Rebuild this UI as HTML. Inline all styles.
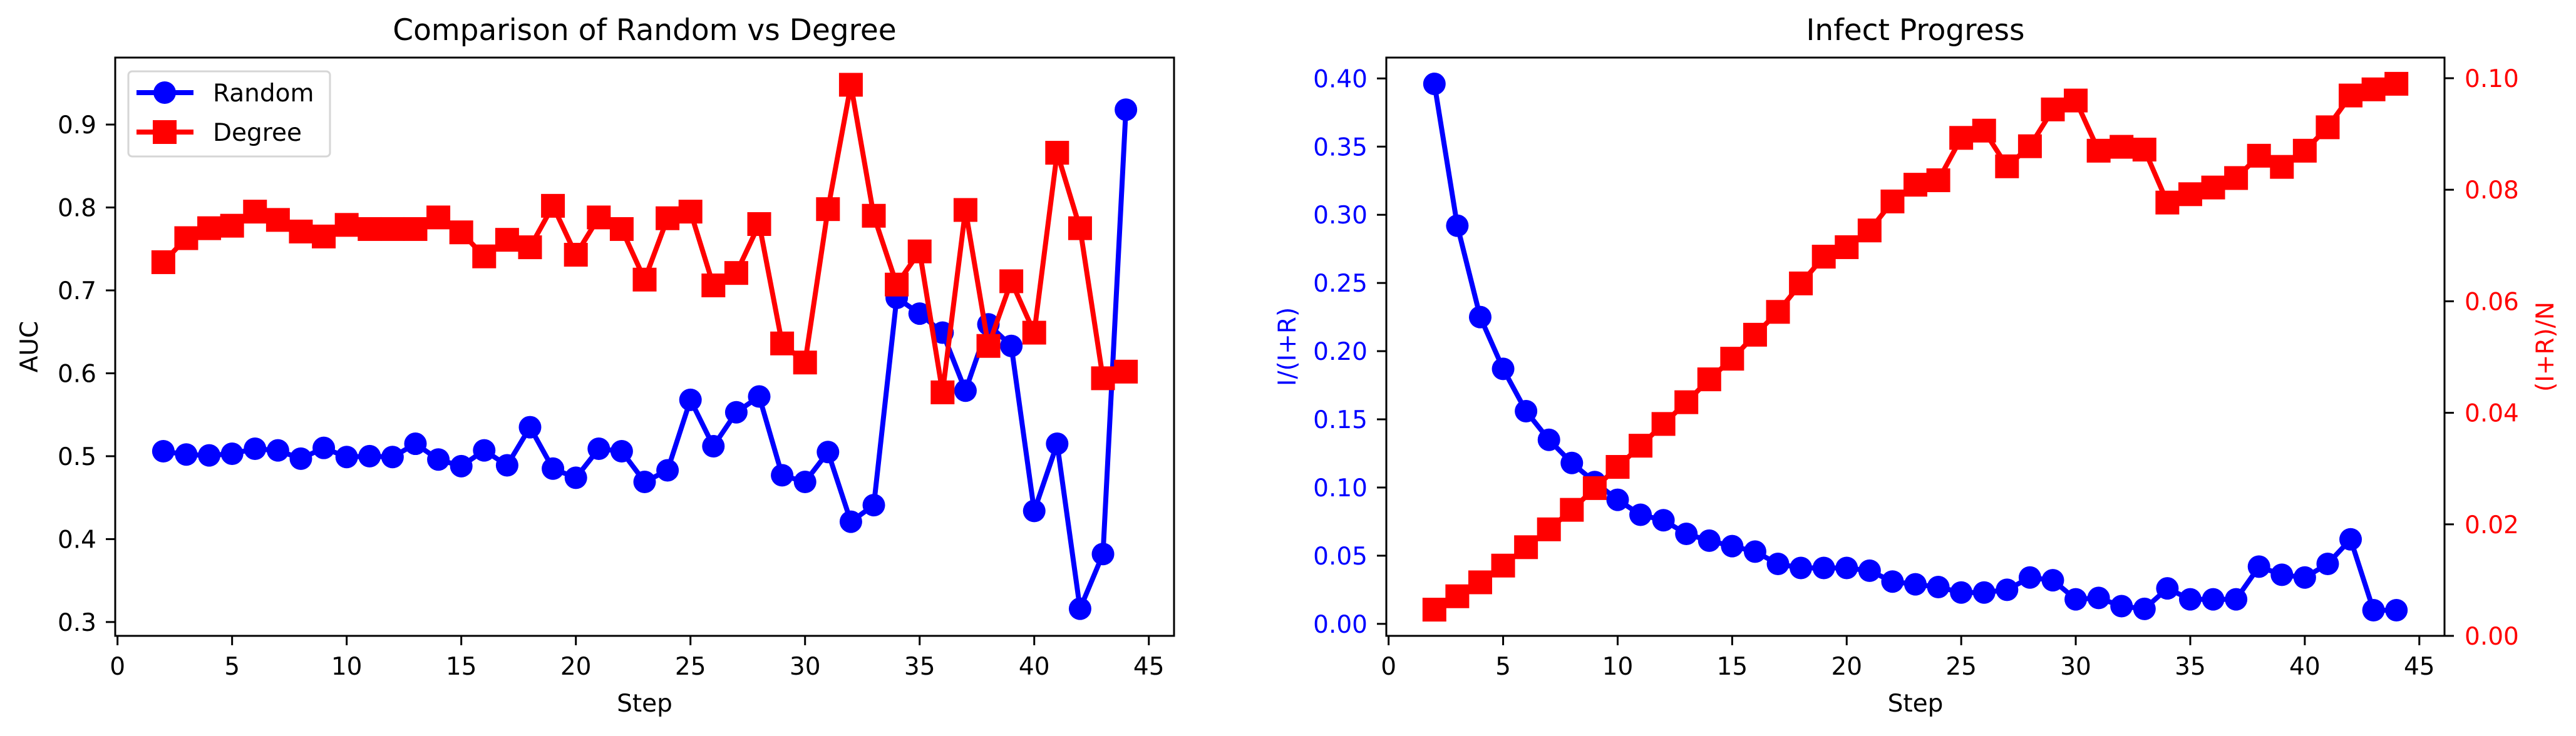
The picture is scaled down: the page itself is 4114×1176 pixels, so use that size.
<!DOCTYPE html>
<html><head><meta charset="utf-8"><style>
html,body{margin:0;padding:0;background:#fff;}
svg{display:block;font-family:"DejaVu Sans","Liberation Sans",sans-serif;}
</style></head><body>
<svg id="fig" width="4114" height="1176" viewBox="0 0 4114 1176" xmlns="http://www.w3.org/2000/svg"></svg>
<script>
const steps = [2,3,4,5,6,7,8,9,10,11,12,13,14,15,16,17,18,19,20,21,22,23,24,25,26,27,28,29,30,31,32,33,34,35,36,37,38,39,40,41,42,43,44];
const randomAUC = [0.506,0.502,0.501,0.503,0.509,0.507,0.497,0.510,0.499,0.500,0.499,0.515,0.496,0.488,0.507,0.489,0.535,0.485,0.474,0.509,0.506,0.469,0.483,0.568,0.512,0.553,0.572,0.477,0.469,0.505,0.421,0.441,0.691,0.672,0.649,0.579,0.659,0.633,0.434,0.515,0.316,0.382,0.918];
const degreeAUC = [0.734,0.763,0.775,0.778,0.795,0.785,0.771,0.765,0.779,0.774,0.774,0.774,0.788,0.770,0.741,0.761,0.752,0.802,0.743,0.788,0.774,0.713,0.787,0.795,0.706,0.721,0.780,0.636,0.613,0.798,0.948,0.790,0.707,0.747,0.577,0.797,0.633,0.711,0.649,0.866,0.775,0.594,0.602];
const infectRatio = [0.396,0.292,0.225,0.187,0.156,0.135,0.118,0.104,0.091,0.080,0.076,0.066,0.061,0.057,0.053,0.044,0.041,0.041,0.041,0.039,0.031,0.029,0.027,0.023,0.023,0.025,0.034,0.032,0.018,0.019,0.013,0.011,0.026,0.018,0.018,0.018,0.042,0.036,0.034,0.044,0.062,0.010,0.010];
const reachedFrac = [0.0047,0.0071,0.0096,0.0126,0.0159,0.0191,0.0226,0.0265,0.0303,0.0341,0.0380,0.0419,0.0460,0.0497,0.0540,0.0581,0.0632,0.0680,0.0697,0.0727,0.0779,0.0809,0.0817,0.0893,0.0906,0.0842,0.0878,0.0944,0.0960,0.0870,0.0877,0.0872,0.0777,0.0792,0.0804,0.0821,0.0861,0.0841,0.0870,0.0912,0.0969,0.0980,0.0990];
const xTicks = [0,5,10,15,20,25,30,35,40,45];
const aucTicks = [0.3,0.4,0.5,0.6,0.7,0.8,0.9];
const aucTickLabels = ["0.3","0.4","0.5","0.6","0.7","0.8","0.9"];
const infTicks = [0,0.05,0.10,0.15,0.20,0.25,0.30,0.35,0.40];
const infTickLabels = ["0.00","0.05","0.10","0.15","0.20","0.25","0.30","0.35","0.40"];
const fracTicks = [0,0.02,0.04,0.06,0.08,0.10];
const fracTickLabels = ["0.00","0.02","0.04","0.06","0.08","0.10"];

const NS="http://www.w3.org/2000/svg";
const svg=document.getElementById('fig');
function el(tag,attrs,parent,text){const e=document.createElementNS(NS,tag);for(const k in attrs)e.setAttribute(k,attrs[k]);if(text!==undefined)e.textContent=text;(parent||svg).appendChild(e);return e;}
function lin(d0,d1,r0,r1){return v=>r0+(v-d0)/(d1-d0)*(r1-r0);}

function xAxis(g,x,top,bot){
  xTicks.forEach(t=>{
    const tk=el('line',{x1:x(t),x2:x(t),y1:bot,y2:bot+15,stroke:'#000','stroke-width':3},g);
    
    
    const tl=el('text',{x:x(t),y:1078,'text-anchor':'middle','font-size':39,fill:'#000'},g,String(t));
    
    
  });
}
function yAxis(g,y,ticks,labels,ax,side,color){
  ticks.forEach((t,i)=>{
    const yy=y(t);
    const x2 = side==='left'? ax-15 : ax+15;
    const tk=el('line',{x1:ax,x2:x2,y1:yy,y2:yy,stroke:'#000','stroke-width':3},g);
    
    
    const tl=el('text',{x: side==='left'? ax-30 : ax+32,y:yy+14,'text-anchor': side==='left'?'end':'start','font-size':39,fill:color},g,labels[i]);
    
    
  });
}
function series(g,x,y,xs,ys,color,marker,name){
  const s=el('g',{},g);
  
  
  const pts=xs.map((v,i)=>x(v).toFixed(1)+','+y(ys[i]).toFixed(1)).join(' ');
  const pl=el('polyline',{points:pts,fill:'none',stroke:color,'stroke-width':8,'stroke-linejoin':'round'},s);
  
  
  xs.forEach((v,i)=>{
    let m;
    if(marker==='circle') m=el('circle',{cx:x(v),cy:y(ys[i]),r:18,fill:color},s);
    else m=el('rect',{x:x(v)-19,y:y(ys[i])-19,width:38,height:38,fill:color},s);
    
    
  });
}

// ---- Left chart ----
const L={l:184,r:1875,t:92,b:1016};
const gL=el('g',{});


const xL=lin(-0.1,46.1,L.l,L.r);
const yL=lin(0.2833,0.9808,L.b,L.t);
const cpL=el('clipPath',{id:'cpL'},gL);el('rect',{x:L.l,y:L.t,width:L.r-L.l,height:L.b-L.t},cpL);
const plotL=el('g',{'clip-path':'url(#cpL)'},gL);
series(plotL,xL,yL,steps,randomAUC,'#0000ff','circle','random-series');
series(plotL,xL,yL,steps,degreeAUC,'#ff0000','square','degree-series');
const frL=el('rect',{x:L.l,y:L.t,width:L.r-L.l,height:L.b-L.t,fill:'none',stroke:'#000','stroke-width':3},gL);

xAxis(gL,xL,L.t,L.b);
yAxis(gL,yL,aucTicks,aucTickLabels,L.l,'left','#000');
let t=el('text',{x:(L.l+L.r)/2,y:64,'text-anchor':'middle','font-size':47,fill:'#000'},gL,'Comparison of Random vs Degree');

t=el('text',{x:(L.l+L.r)/2,y:1137,'text-anchor':'middle','font-size':39,fill:'#000'},gL,'Step');

t=el('text',{x:0,y:0,'text-anchor':'middle','font-size':39,fill:'#000',transform:'translate(60,'+((L.t+L.b)/2)+') rotate(-90)'},gL,'AUC');

// legend
const lg=el('g',{},gL);

el('rect',{x:205,y:114,width:322,height:136,rx:6,fill:'#fff','fill-opacity':0.8,stroke:'#d6d6d6','stroke-width':3},lg);
const le1=el('g',{},lg);
el('line',{x1:218,x2:309,y1:148,y2:148,stroke:'#0000ff','stroke-width':8},le1);
el('circle',{cx:263,cy:148,r:18,fill:'#0000ff'},le1);
el('text',{x:340,y:162,'font-size':39,fill:'#000'},le1,'Random');
const le2=el('g',{},lg);
el('line',{x1:218,x2:309,y1:211,y2:211,stroke:'#ff0000','stroke-width':8},le2);
el('rect',{x:244,y:192,width:38,height:38,fill:'#ff0000'},le2);
el('text',{x:340,y:225,'font-size':39,fill:'#000'},le2,'Degree');

// ---- Right chart ----
const R={l:2214,r:3904,t:92,b:1016};
const gR=el('g',{});


const xR=lin(-0.1,46.1,R.l,R.r);
const yR1=lin(-0.0088,0.4153,R.b,R.t);
const yR2=lin(0,0.1037,R.b,R.t);
const cpR=el('clipPath',{id:'cpR'},gR);el('rect',{x:R.l,y:R.t,width:R.r-R.l,height:R.b-R.t},cpR);
const plotR=el('g',{'clip-path':'url(#cpR)'},gR);
series(plotR,xR,yR1,steps,infectRatio,'#0000ff','circle','infect-ratio-series');
series(plotR,xR,yR2,steps,reachedFrac,'#ff0000','square','reached-fraction-series');
const frR=el('rect',{x:R.l,y:R.t,width:R.r-R.l,height:R.b-R.t,fill:'none',stroke:'#000','stroke-width':3},gR);

xAxis(gR,xR,R.t,R.b);
yAxis(gR,yR1,infTicks,infTickLabels,R.l,'left','#0000ff');
yAxis(gR,yR2,fracTicks,fracTickLabels,R.r,'right','#ff0000');
t=el('text',{x:(R.l+R.r)/2,y:64,'text-anchor':'middle','font-size':47,fill:'#000'},gR,'Infect Progress');

t=el('text',{x:(R.l+R.r)/2,y:1137,'text-anchor':'middle','font-size':39,fill:'#000'},gR,'Step');

t=el('text',{x:0,y:0,'text-anchor':'middle','font-size':39,fill:'#0000ff',transform:'translate(2069,'+((R.t+R.b)/2)+') rotate(-90)'},gR,'I/(I+R)');

t=el('text',{x:0,y:0,'text-anchor':'middle','font-size':39,fill:'#ff0000',transform:'translate(4078,'+((R.t+R.b)/2)+') rotate(-90)'},gR,'(I+R)/N');

</script>
</body></html>
